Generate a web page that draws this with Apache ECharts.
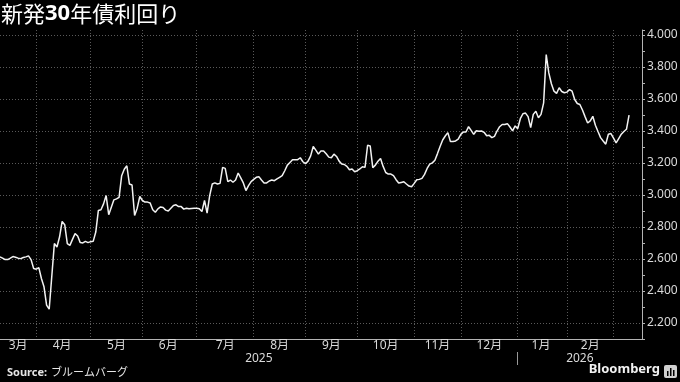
<!DOCTYPE html>
<html><head><meta charset="utf-8">
<script src="https://cdn.jsdelivr.net/npm/echarts@6/dist/echarts.min.js"></script>
<style>html,body{margin:0;padding:0;background:#000;}#c{width:680px;height:382px;}</style>
</head><body><div id="c"></div>
<script>
// ---- data ----
const titleParts = ['新発', '30', '年債利回り'];
const sourceLabel = 'Source:';
const sourceName = 'ブルームバーグ';
const brand = 'Bloomberg';
const firstDay = '2025-03-11';
const lastDay = '2026-03-17';
const holidays = ['2025-03-20','2025-04-29','2025-05-05','2025-05-06','2025-07-21','2025-08-11',
  '2025-09-15','2025-09-23','2025-10-13','2025-11-03','2025-11-24','2025-12-31','2026-01-01',
  '2026-01-02','2026-01-12','2026-02-11','2026-02-23'];
const yields = [
  2.613,2.605,2.596,2.596,2.605,2.615,2.611,2.605,2.602,2.609,
  2.613,2.619,2.596,2.540,2.536,2.546,2.478,2.426,2.312,2.286,
  2.490,2.696,2.675,2.737,2.834,2.814,2.696,2.685,2.722,2.758,
  2.743,2.702,2.700,2.710,2.702,2.708,2.710,2.768,2.903,2.907,
  2.944,2.996,2.876,2.923,2.969,2.975,2.985,3.120,3.160,3.182,
  3.068,3.062,2.872,2.917,2.990,2.965,2.955,2.955,2.950,2.907,
  2.892,2.913,2.925,2.921,2.905,2.900,2.917,2.934,2.938,2.927,
  2.927,2.911,2.917,2.913,2.915,2.917,2.917,2.913,2.896,2.965,
  2.886,2.996,3.068,3.075,3.068,3.072,3.172,3.166,3.083,3.093,
  3.079,3.093,3.137,3.106,3.075,3.027,3.058,3.083,3.097,3.110,
  3.114,3.093,3.075,3.075,3.087,3.093,3.089,3.100,3.110,3.120,
  3.151,3.186,3.203,3.220,3.220,3.220,3.232,3.207,3.195,3.211,
  3.244,3.302,3.280,3.255,3.275,3.275,3.257,3.236,3.232,3.255,
  3.240,3.211,3.193,3.190,3.178,3.157,3.162,3.145,3.151,3.162,
  3.176,3.172,3.310,3.306,3.170,3.186,3.210,3.228,3.178,3.140,
  3.130,3.130,3.120,3.095,3.074,3.078,3.082,3.068,3.055,3.051,
  3.072,3.095,3.097,3.103,3.128,3.165,3.192,3.200,3.217,3.258,
  3.302,3.343,3.368,3.389,3.333,3.333,3.337,3.348,3.378,3.393,
  3.393,3.426,3.403,3.378,3.401,3.397,3.399,3.391,3.370,3.372,
  3.358,3.366,3.399,3.426,3.440,3.440,3.445,3.424,3.400,3.431,
  3.414,3.476,3.507,3.511,3.489,3.420,3.503,3.522,3.482,3.503,
  3.575,3.876,3.762,3.694,3.648,3.634,3.669,3.646,3.638,3.642,
  3.658,3.648,3.596,3.571,3.565,3.530,3.489,3.449,3.462,3.491,
  3.435,3.396,3.358,3.337,3.317,3.379,3.383,3.354,3.325,3.352,
  3.379,3.396,3.410,3.499
];
const yMin = 2.1, yMax = 4.03, yStep = 0.1;

// ---- categories: Japanese trading days ----
function tradingDays() {
  const out = [];
  let t = Date.parse(firstDay + 'T00:00:00Z');
  const end = Date.parse(lastDay + 'T00:00:00Z');
  while (t <= end) {
    const d = new Date(t);
    const wd = d.getUTCDay();
    const s = d.toISOString().slice(0, 10);
    if (wd !== 0 && wd !== 6 && holidays.indexOf(s) < 0) out.push(s);
    t += 86400000;
  }
  return out;
}
const days = tradingDays();

const monthStarts = new Set();
const monthSegs = [];
let segStart = 0;
for (let i = 1; i <= days.length; i++) {
  if (i === days.length || days[i].slice(0, 7) !== days[i - 1].slice(0, 7)) {
    monthSegs.push([segStart, i, i < days.length]);
    if (i < days.length) monthStarts.add(i);
    segStart = i;
  }
}
const monthLabelIdx = new Set(monthSegs.filter(s => s[2]).map(s => Math.floor((s[0] + s[1]) / 2)));

const yearStarts = new Set();
const yearLabelIdx = new Set();
let ys = 0;
for (let i = 1; i <= days.length; i++) {
  if (i === days.length || days[i].slice(0, 4) !== days[i - 1].slice(0, 4)) {
    yearLabelIdx.add(Math.round((ys + i - 1) / 2));
    if (i < days.length) yearStarts.add(i);
    ys = i;
  }
}

const FONT = '"Noto Sans", "Noto Sans CJK JP", sans-serif';
const chart = echarts.init(document.getElementById('c'), null, {renderer: 'canvas'});
chart.setOption({
  backgroundColor: '#000',
  animation: false,
  title: {
    left: 1, top: 1, padding: 0,
    text: '{a|' + titleParts[0] + '}{b|' + titleParts[1] + '}{a|' + titleParts[2] + '}',
    textStyle: {
      fontWeight: 'normal',
      rich: {
        a: {fontSize: 22, color: '#fff', fontWeight: 'normal', fontFamily: '"Noto Sans CJK JP", sans-serif', lineHeight: 26},
        b: {fontSize: 22, color: '#fff', fontWeight: 'bold', fontFamily: '"Noto Sans", sans-serif', lineHeight: 26}
      }
    }
  },
  grid: {left: 0, right: 38, top: 30, bottom: 43, containLabel: false, outerBoundsMode: 'none'},
  xAxis: [{
    type: 'category', data: days, boundaryGap: false,
    axisLine: {show: true, lineStyle: {color: '#b3b3b3', width: 1}},
    axisTick: {show: false},
    axisLabel: {
      interval: (i) => monthLabelIdx.has(i),
      formatter: (v) => parseInt(v.slice(5, 7), 10) + '月',
      color: '#d9d9d9', fontSize: 12, fontFamily: FONT, margin: 1
    },
    splitLine: {show: true, interval: (i) => monthStarts.has(i),
      lineStyle: {color: '#5a5a5a', type: [1, 2], width: 1}}
  }, {
    type: 'category', data: days, boundaryGap: false, position: 'bottom', offset: 13,
    axisLine: {show: false},
    axisTick: {show: true, interval: (i) => yearStarts.has(i), length: 13,
      lineStyle: {color: '#999', width: 1}},
    axisLabel: {
      interval: (i) => yearLabelIdx.has(i),
      formatter: (v) => v.slice(0, 4),
      color: '#d9d9d9', fontSize: 12, fontFamily: FONT, margin: 1
    },
    splitLine: {show: false}
  }],
  yAxis: {
    type: 'value', position: 'right', min: yMin, max: yMax, interval: yStep,
    axisLine: {show: true, lineStyle: {color: '#b3b3b3', width: 1}},
    axisTick: {show: true, length: 3, lineStyle: {color: '#b3b3b3'}},
    axisLabel: {
      color: '#d9d9d9', fontSize: 12, fontFamily: FONT, margin: 5,
      formatter: (v) => (Math.round(v * 100) % 20 === 0 ? v.toFixed(3) : '')
    },
    splitLine: {show: true, showMaxLine: true,
      lineStyle: {color: ['rgba(0,0,0,0)', '#5a5a5a'], type: [1, 2], width: 1}}
  },
  series: [{
    type: 'line', data: yields, xAxisIndex: 0, showSymbol: false, symbol: 'none',
    lineStyle: {color: '#f2f2f2', width: 1.5}, z: 5
  }],
  graphic: [
    {type: 'text', left: 7, top: 367, style: {text: sourceLabel, fill: '#e6e6e6',
      font: 'bold 11px "Noto Sans", sans-serif'}},
    {type: 'text', left: 51, top: 366, style: {text: sourceName, fill: '#e6e6e6',
      font: '11px "Noto Sans CJK JP", sans-serif'}},
    {type: 'text', right: 20, top: 363, style: {text: brand, fill: '#f2f2f2',
      font: 'bold 13px "Noto Sans", sans-serif'}},
    {type: 'group', right: 3, top: 365, children: [
      {type: 'rect', shape: {x: 0, y: 0, width: 13, height: 13, r: 2}, style: {fill: '#d0d0d0'}},
      {type: 'rect', shape: {x: 3, y: 6, width: 1.5, height: 5}, style: {fill: '#000'}},
      {type: 'rect', shape: {x: 6, y: 3, width: 1.5, height: 8}, style: {fill: '#000'}},
      {type: 'rect', shape: {x: 9, y: 5, width: 1.5, height: 6}, style: {fill: '#000'}}
    ]}
  ]
});
</script>
</body></html>
